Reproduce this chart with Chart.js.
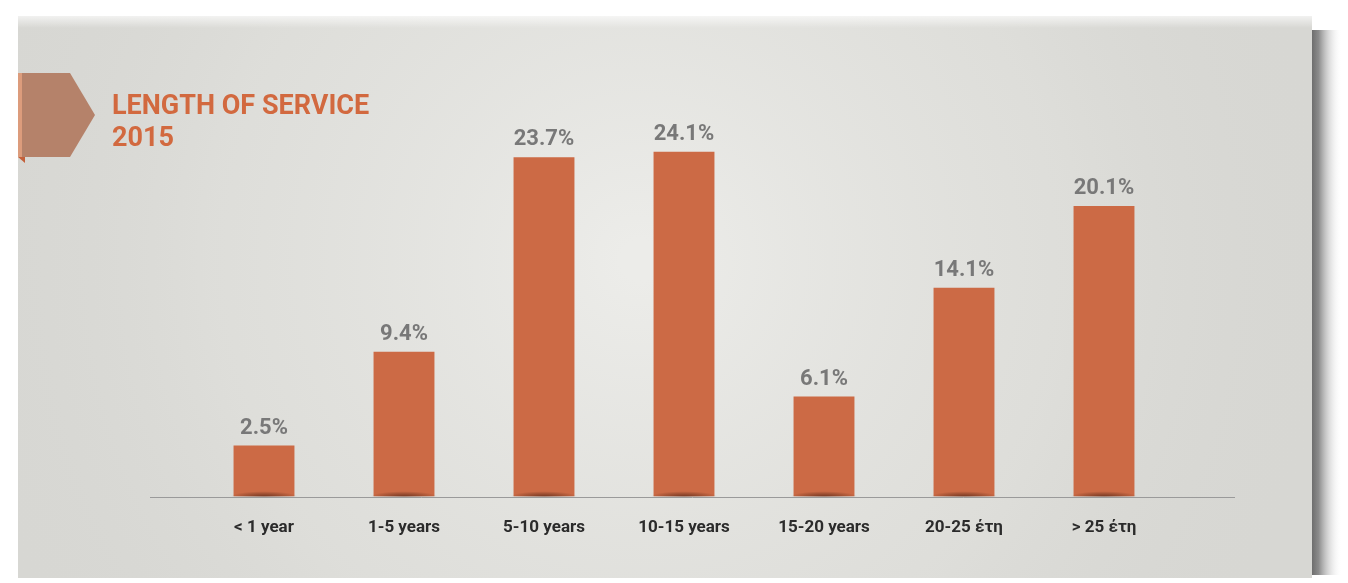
<!DOCTYPE html>
<html>
<head>
<meta charset="utf-8">
<script src="https://cdn.jsdelivr.net/npm/chart.js@4"></script>
<style>
  html, body { margin: 0; padding: 0; background: #ffffff; }
  #wrap { width: 1348px; height: 583px; position: relative; }
</style>
</head>
<body>
<div id="wrap"><canvas id="c" width="1348" height="583"></canvas></div>
<script>
const categories = ["< 1 year", "1-5 years", "5-10 years", "10-15 years", "15-20 years", "20-25 έτη", "> 25 έτη"];
const values = [2.5, 9.4, 23.7, 24.1, 6.1, 14.1, 20.1];
const valueLabels = ["2.5%", "9.4%", "23.7%", "24.1%", "6.1%", "14.1%", "20.1%"];
const titleLines = ["LENGTH OF SERVICE", "2015"];

const Y_MIN = -1.25, Y_MAX = 27.9;

const backgroundPlugin = {
  id: 'bg',
  beforeDraw(chart) {
    const ctx = chart.ctx;
    ctx.save();
    ctx.fillStyle = '#ffffff';
    ctx.fillRect(0, 0, chart.width, chart.height);
    // right shadow
    const sg = ctx.createLinearGradient(1306, 0, 1342, 0);
    sg.addColorStop(0, 'rgba(70,70,70,0.95)');
    sg.addColorStop(0.35, 'rgba(110,110,110,0.8)');
    sg.addColorStop(1, 'rgba(255,255,255,0)');
    ctx.fillStyle = sg;
    ctx.fillRect(1300, 30, 44, 545);
    // panel
    ctx.fillStyle = '#d7d7d3';
    ctx.fillRect(18, 16, 1294, 562);
    const rg = ctx.createRadialGradient(640, 260, 20, 640, 260, 700);
    rg.addColorStop(0, 'rgba(236,236,233,1)');
    rg.addColorStop(0.6, 'rgba(226,226,222,0.6)');
    rg.addColorStop(1, 'rgba(215,215,211,0)');
    ctx.fillStyle = rg;
    ctx.fillRect(18, 16, 1294, 562);
    // top blurred edge
    const tg = ctx.createLinearGradient(0, 10, 0, 28);
    tg.addColorStop(0, 'rgba(255,255,255,1)');
    tg.addColorStop(1, 'rgba(255,255,255,0)');
    ctx.fillStyle = tg;
    ctx.fillRect(18, 10, 1294, 18);
    // flag
    ctx.fillStyle = '#b5826a';
    ctx.beginPath();
    ctx.moveTo(18, 73);
    ctx.lineTo(70, 73);
    ctx.lineTo(95, 115);
    ctx.lineTo(70, 157);
    ctx.lineTo(18, 157);
    ctx.closePath();
    ctx.fill();
    ctx.fillStyle = '#dc9c7c';
    ctx.fillRect(18, 73, 4, 84);
    ctx.fillStyle = '#c4603a';
    ctx.beginPath();
    ctx.moveTo(18, 157);
    ctx.lineTo(25, 157);
    ctx.lineTo(25, 163);
    ctx.closePath();
    ctx.fill();
    // title
    ctx.fillStyle = '#d2693f';
    ctx.font = '700 27px Roboto, "Noto Sans", sans-serif';
    ctx.textAlign = 'left';
    ctx.textBaseline = 'alphabetic';
    ctx.fillText(titleLines[0], 112, 114);
    ctx.fillText(titleLines[1], 112, 146);
    // baseline
    const y0 = chart.scales.y.getPixelForValue(Y_MIN);
    ctx.strokeStyle = '#9a9a9a';
    ctx.lineWidth = 1;
    ctx.beginPath();
    ctx.moveTo(150, Math.round(y0) + 0.5);
    ctx.lineTo(1235, Math.round(y0) + 0.5);
    ctx.stroke();
    ctx.restore();
  },
  afterDatasetsDraw(chart) {
    const ctx = chart.ctx;
    const meta = chart.getDatasetMeta(0);
    ctx.save();
    meta.data.forEach((bar, i) => {
      const w = bar.width;
      const by = bar.base;
      // soft dark shadow at bar bottom
      ctx.save();
      ctx.beginPath();
      ctx.rect(bar.x - w / 2 - 4, by - 7, w + 8, 7);
      ctx.clip();
      ctx.translate(bar.x, by);
      ctx.scale(1, 0.16);
      const g = ctx.createRadialGradient(0, 0, 1, 0, 0, w * 0.55);
      g.addColorStop(0, 'rgba(80,35,20,0.7)');
      g.addColorStop(0.6, 'rgba(80,35,20,0.3)');
      g.addColorStop(1, 'rgba(80,35,20,0)');
      ctx.fillStyle = g;
      ctx.fillRect(-w, -w, 2 * w, 2 * w);
      ctx.restore();
      // value label
      ctx.fillStyle = '#787878';
      ctx.font = '700 22px Roboto, "Noto Sans", sans-serif';
      ctx.textAlign = 'center';
      ctx.textBaseline = 'alphabetic';
      ctx.fillText(valueLabels[i], bar.x, bar.y - 12);
    });
    ctx.restore();
  }
};

new Chart(document.getElementById('c'), {
  type: 'bar',
  data: {
    labels: categories,
    datasets: [{
      data: values,
      base: Y_MIN,
      backgroundColor: '#cc6a45',
      borderWidth: 0,
      barPercentage: 0.87,
      categoryPercentage: 0.5
    }]
  },
  options: {
    responsive: false,
    animation: false,
    devicePixelRatio: 1,
    layout: { padding: { left: 194, right: 174, top: 100, bottom: 32 } },
    plugins: { legend: { display: false }, tooltip: { enabled: false }, title: { display: false } },
    scales: {
      x: {
        grid: { display: false },
        border: { display: false },
        ticks: {
          color: '#2b2b2b',
          padding: 13,
          maxRotation: 0,
          font: { family: 'Roboto, "Noto Sans", sans-serif', size: 17, weight: '700' }
        }
      },
      y: {
        display: false,
        min: Y_MIN,
        max: Y_MAX
      }
    }
  },
  plugins: [backgroundPlugin]
});
</script>
</body>
</html>
